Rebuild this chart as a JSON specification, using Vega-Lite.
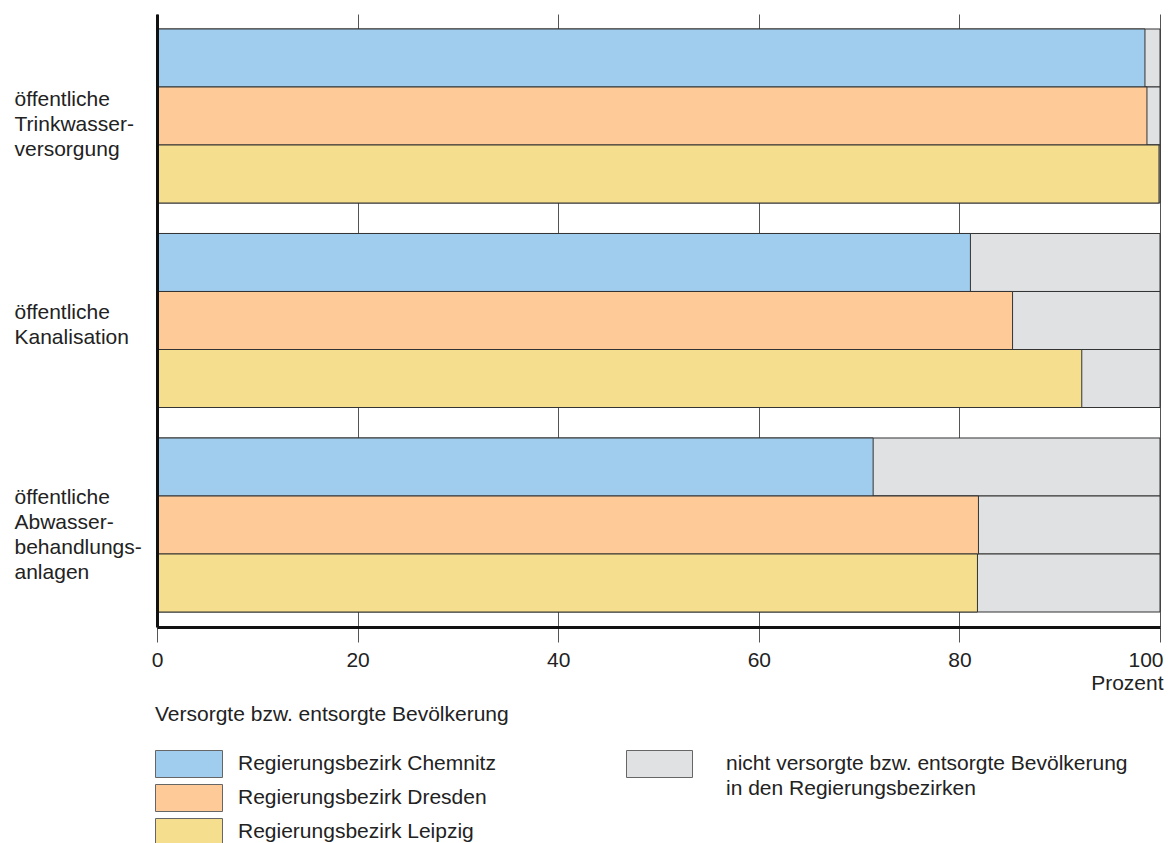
{
  "$schema": "https://vega.github.io/schema/vega-lite/v6.json",
  "autosize": "none",
  "padding": {"left": 157, "top": 14, "right": 9, "bottom": 216},
  "width": 1003,
  "height": 613,
  "config": {
    "font": "Liberation Sans",
    "view": {"stroke": null},
    "style": {"guide-label": {"lineHeight": 25}}
  },
  "data": {
    "values": [
      {"group": "Trinkwasser", "region": "Regierungsbezirk Chemnitz", "value": 98.5},
      {"group": "Trinkwasser", "region": "Regierungsbezirk Dresden", "value": 98.7},
      {"group": "Trinkwasser", "region": "Regierungsbezirk Leipzig", "value": 99.9},
      {"group": "Kanalisation", "region": "Regierungsbezirk Chemnitz", "value": 81.1},
      {"group": "Kanalisation", "region": "Regierungsbezirk Dresden", "value": 85.3},
      {"group": "Kanalisation", "region": "Regierungsbezirk Leipzig", "value": 92.2},
      {"group": "Abwasser", "region": "Regierungsbezirk Chemnitz", "value": 71.4},
      {"group": "Abwasser", "region": "Regierungsbezirk Dresden", "value": 81.9},
      {"group": "Abwasser", "region": "Regierungsbezirk Leipzig", "value": 81.8}
    ]
  },
  "encoding": {
    "y": {
      "field": "group",
      "type": "nominal",
      "sort": ["Trinkwasser", "Kanalisation", "Abwasser"],
      "scale": {"paddingInner": 0.1491, "paddingOuter": 0.0733},
      "axis": {
        "title": null,
        "orient": "left",
        "zindex": 1,
        "domain": true,
        "domainColor": "#111111",
        "domainWidth": 3,
        "ticks": false,
        "grid": false,
        "labelAlign": "left",
        "labelBaseline": "middle",
        "labelPadding": 143,
        "labelOffset": {"condition": [
          {"test": "datum.value == 'Trinkwasser'", "value": -16},
          {"test": "datum.value == 'Kanalisation'", "value": -8}
        ], "value": -27},
        "labelFontSize": 21,
        "labelColor": "#222222",
        "labelLineHeight": 25,
        "labelLimit": 300,
        "labelExpr": "datum.value == 'Trinkwasser' ? ['öffentliche', 'Trinkwasser-', 'versorgung'] : datum.value == 'Kanalisation' ? ['öffentliche', 'Kanalisation'] : ['öffentliche', 'Abwasser-', 'behandlungs-', 'anlagen']"
      }
    },
    "yOffset": {
      "field": "region",
      "type": "nominal",
      "sort": ["Regierungsbezirk Chemnitz", "Regierungsbezirk Dresden", "Regierungsbezirk Leipzig"],
      "scale": {"paddingInner": 0, "paddingOuter": 0}
    }
  },
  "layer": [
    {
      "mark": {"type": "bar", "stroke": "#333333", "strokeWidth": 1},
      "encoding": {
        "x": {
          "datum": 0,
          "type": "quantitative",
          "scale": {"domain": [0, 100], "nice": false},
          "axis": {
            "values": [0, 20, 40, 60, 80, 100],
            "orient": "bottom",
            "domain": true,
            "domainColor": "#111111",
            "domainWidth": 3,
            "ticks": true,
            "tickSize": 15,
            "tickColor": "#555555",
            "tickWidth": 1,
            "grid": true,
            "gridColor": "#555555",
            "gridWidth": 1,
            "labelFontSize": 21,
            "labelColor": "#222222",
            "labelPadding": 7,
            "labelAlign": {"condition": {"test": "datum.value === 100", "value": "right"}, "value": "center"},
            "labelOffset": {"condition": {"test": "datum.value === 100", "value": 3}, "value": 0},
            "title": "Prozent",
            "titleFontSize": 21,
            "titleFontWeight": "normal",
            "titleColor": "#222222",
            "titleAnchor": "end",
            "titleAlign": "right",
            "titleX": 1006,
            "titlePadding": 2
          }
        },
        "x2": {"datum": 100},
        "fill": {
          "datum": "nicht versorgte bzw. entsorgte Bevölkerung in den Regierungsbezirken",
          "scale": {"range": ["#e0e1e3"]},
          "legend": {
            "title": null,
            "orient": "none",
            "legendX": 469,
            "legendY": 736,
            "symbolType": "M-1,-1L3.89,-1L3.89,1L-1,1Z",
            "symbolSize": 729,
            "symbolStrokeColor": "#666666",
            "symbolStrokeWidth": 1,
            "symbolOpacity": 1,
            "labelOffset": 72,
            "labelFontSize": 21,
            "labelColor": "#222222",
            "labelLimit": 700,
            "labelBaseline": "middle",
            "labelExpr": "['nicht versorgte bzw. entsorgte Bevölkerung', 'in den Regierungsbezirken']"
          }
        }
      }
    },
    {
      "mark": {"type": "bar", "stroke": "#333333", "strokeWidth": 1},
      "encoding": {
        "x": {"field": "value", "type": "quantitative", "stack": null},
        "color": {
          "field": "region",
          "type": "nominal",
          "sort": ["Regierungsbezirk Chemnitz", "Regierungsbezirk Dresden", "Regierungsbezirk Leipzig"],
          "scale": {"range": ["#a0cced", "#fdca98", "#f5df8e"]},
          "legend": {
            "title": "Versorgte bzw. entsorgte Bevölkerung",
            "orient": "none",
            "legendX": -2,
            "legendY": 690,
            "titleFontSize": 21,
            "titleFontWeight": "normal",
            "titleColor": "#222222",
            "titleLimit": 700,
            "titlePadding": 25,
            "symbolType": "M-1,-1L3.963,-1L3.963,1L-1,1Z",
            "symbolSize": 729,
            "symbolStrokeColor": "#666666",
            "symbolStrokeWidth": 1,
            "symbolOpacity": 1,
            "labelOffset": 55,
            "labelFontSize": 21,
            "labelColor": "#222222",
            "labelLimit": 700,
            "rowPadding": 2
          }
        }
      }
    }
  ]
}
